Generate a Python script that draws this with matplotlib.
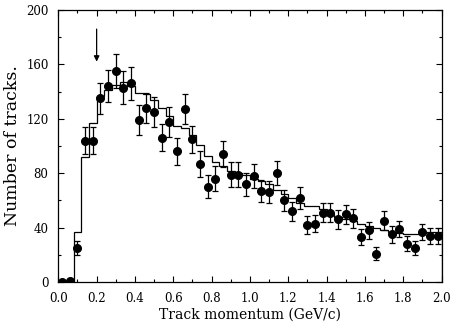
import numpy as np
import matplotlib
matplotlib.use("Agg")
import matplotlib.pyplot as plt

# Data: bin centres (GeV/c), measured counts, errors, and simulation histogram
momentum = [0.02, 0.06, 0.10, 0.14, 0.18, 0.22, 0.26, 0.30, 0.34, 0.38,
            0.42, 0.46, 0.50, 0.54, 0.58, 0.62, 0.66, 0.70, 0.74, 0.78,
            0.82, 0.86, 0.90, 0.94, 0.98, 1.02, 1.06, 1.10, 1.14, 1.18,
            1.22, 1.26, 1.30, 1.34, 1.38, 1.42, 1.46, 1.50, 1.54, 1.58,
            1.62, 1.66, 1.70, 1.74, 1.78, 1.82, 1.86, 1.90, 1.94, 1.98]
counts = [0, 1, 25, 104, 104, 135, 144, 155, 143, 146,
          119, 128, 125, 106, 118, 96, 127, 105, 87, 70,
          76, 94, 79, 79, 72, 78, 67, 66, 80, 60,
          52, 62, 42, 43, 51, 51, 46, 50, 47, 33,
          38, 21, 45, 35, 39, 28, 25, 37, 34, 34]
errors = [0, 0, 5, 10, 10, 11.5, 12, 12.5, 12, 12,
          11, 11, 11, 10, 11, 10, 11, 10, 9.5, 8.5,
          9, 9.5, 9, 9, 8.5, 9, 8, 8, 9, 8,
          7, 8, 6.5, 6.5, 7, 7, 7, 7, 7, 6,
          6, 4.8, 7, 6, 6, 5.5, 5, 6, 6, 6]
simulation = [0, 0, 37, 92, 117, 137, 141, 145, 147, 144,
              139, 138, 134, 128, 122, 115, 113, 108, 101, 93,
              88, 85, 82, 80, 79, 76, 74, 72, 68, 65,
              62, 58, 56, 56, 54, 50, 48, 46, 45, 43,
              41, 40, 38, 37, 36, 35, 35, 36, 37, 37]
bin_width = 0.04
arrow_x = 0.2

xticks = [0.0, 0.2, 0.4, 0.6, 0.8, 1.0, 1.2, 1.4, 1.6, 1.8, 2.0]
xtick_labels = ["0.0", "0.2", "0.4", "0.6", "0.8", "1.0", "1.2", "1.4", "1.6", "1.8", "2.0"]
yticks = [0, 40, 80, 120, 160, 200]

font = "DejaVu Serif"

fig = plt.figure(figsize=(4.52, 3.22), dpi=100)
ax = fig.add_axes([0.129, 0.124, 0.848, 0.845])

x = np.array(momentum)
edges = np.concatenate([x - bin_width / 2, [x[-1] + bin_width / 2]])
sim = np.array(simulation)
ax.stairs(sim, edges, color="black", linewidth=0.9)

ax.errorbar(momentum, counts, yerr=errors, fmt="o", color="black",
            markersize=5.5, elinewidth=0.9, capsize=2.5, capthick=0.9)

ax.annotate("", xy=(arrow_x, 160), xytext=(arrow_x, 188),
            arrowprops=dict(arrowstyle="-|>", color="black", lw=0.9,
                            mutation_scale=8))

ax.set_xlim(0, 2.0)
ax.set_ylim(0, 200)
ax.set_xticks(xticks)
ax.set_xticklabels(xtick_labels, fontfamily=font, fontsize=8.5)
ax.set_yticks(yticks)
ax.set_yticklabels([str(v) for v in yticks], fontfamily=font, fontsize=8.5)
ax.set_xticks(np.arange(0, 2.0001, 0.1), minor=True)
ax.set_yticks(np.arange(0, 200.001, 20), minor=True)
ax.tick_params(which="both", direction="in", top=True, right=True, width=0.8)
ax.tick_params(which="major", length=4)
ax.tick_params(which="minor", length=2)
ax.tick_params(axis="x", which="major", pad=7)
ax.tick_params(axis="y", which="major", pad=7)
for s in ax.spines.values():
    s.set_linewidth(0.9)

ax.set_xlabel("Track momentum (GeV/c)", fontfamily=font, fontsize=10, labelpad=2)
ax.set_ylabel("Number of tracks.", fontfamily=font, fontsize=12.5, labelpad=4)

fig.savefig("out.png", dpi=100)
